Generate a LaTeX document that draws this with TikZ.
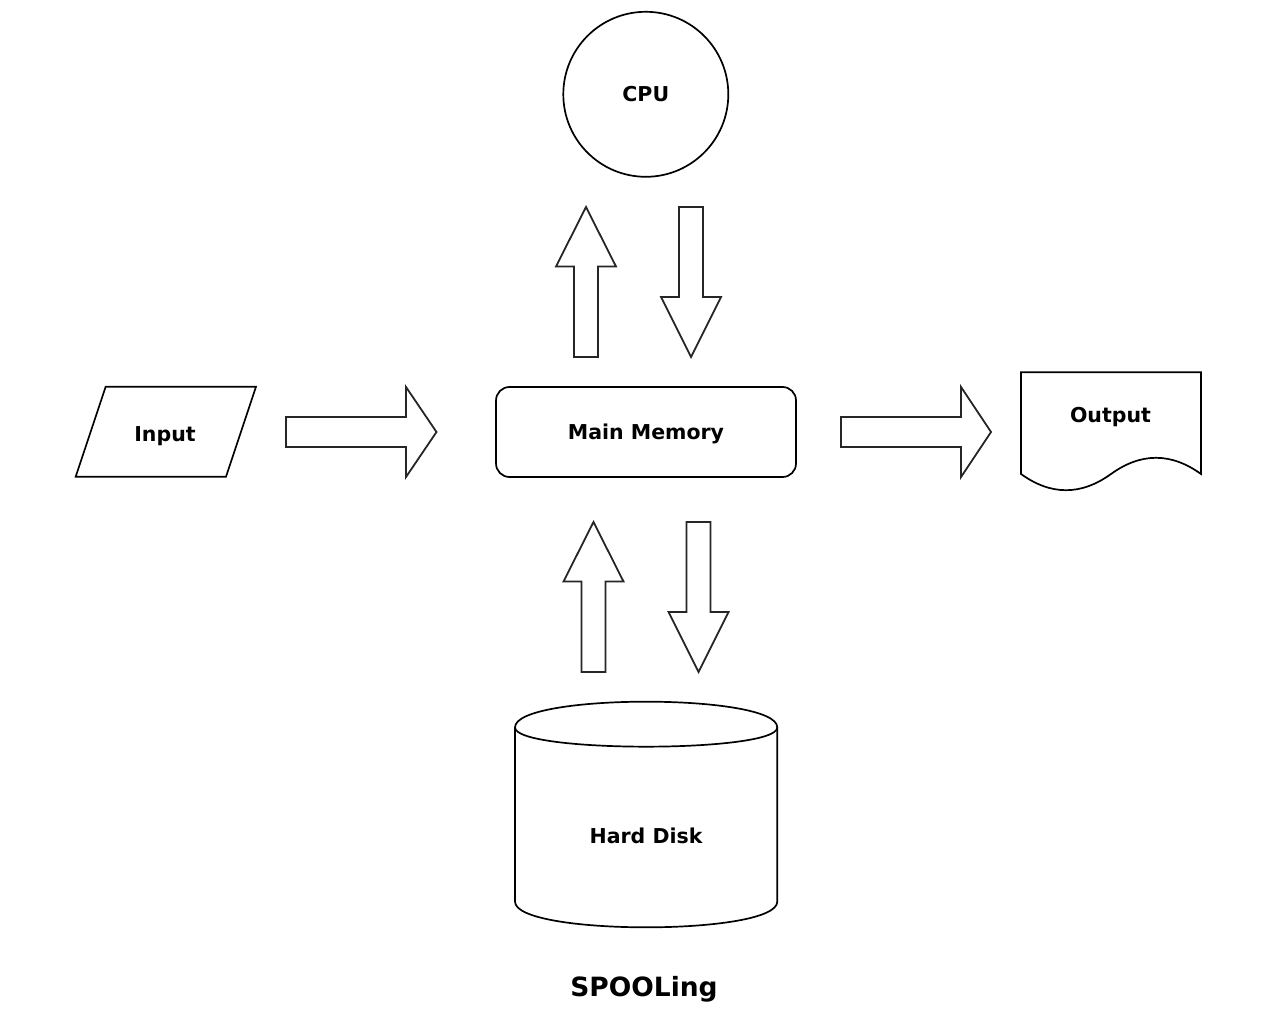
\documentclass[tikz,border=0pt]{standalone}
\usepackage{fontspec}
\setmainfont{DejaVu Sans}
\tikzset{
  box/.style={draw, line width=1.7pt},
  lbl/.style={font=\fontsize{20.5}{24}\selectfont\bfseries, text height=15pt, text depth=0pt, inner sep=0pt},
  blockarrow/.style={draw=black!85, line width=1.8pt, line join=miter},
}
\begin{document}
\begin{tikzpicture}[x=1pt,y=-1pt]
\useasboundingbox (0,0) rectangle (1282,1024);
% cpu and main memory
\node[box,circle,minimum size=165pt,lbl] (cpu) at (645.8,94.3) {CPU};
\node[box,rounded corners=13.5pt,minimum width=300pt,minimum height=90pt,lbl] (mem) at (646,432) {Main Memory};
% input
\draw[box] (75.7,476.7) -- (105.7,386.7) -- (256,386.7) -- (226,476.7) -- cycle;
\node[lbl] (input) at (165,433.8) {Input};
% output
\draw[box] (1021,474) -- (1021,372.3) -- (1201,372.3) -- (1201,474) .. controls (1171,452.4) and (1141,452.4) .. (1111,474) .. controls (1081,495.6) and (1051,495.6) .. (1021,474) -- cycle;
\node[lbl] (output) at (1110.5,414.8) {Output};
% hard disk
\draw[box] (515,727.4) .. controls (515,693.1) and (777.3,693.1) .. (777.3,727.4) -- (777.3,901.6) .. controls (777.3,935.9) and (515,935.9) .. (515,901.6) -- cycle;
\draw[box] (515,727.4) .. controls (515,753.1) and (777.3,753.1) .. (777.3,727.4);
\node[lbl] (disk) at (646,835.6) {Hard Disk};
% arrows between cpu and memory
\draw[blockarrow] (574,357) -- (574,266.5) -- (556,266.5) -- (586,207) -- (616,266.5) -- (598,266.5) -- (598,357) -- cycle;
\draw[blockarrow] (679,207) -- (703,207) -- (703,297) -- (721,297) -- (691,357) -- (661,297) -- (679,297) -- cycle;
% arrows between memory and disk
\draw[blockarrow] (581.5,672) -- (581.5,581.5) -- (563.5,581.5) -- (593.5,522) -- (623.5,581.5) -- (605.5,581.5) -- (605.5,672) -- cycle;
\draw[blockarrow] (686.5,522) -- (710.5,522) -- (710.5,612) -- (728.5,612) -- (698.5,672) -- (668.5,612) -- (686.5,612) -- cycle;
% input -> memory -> output
\draw[blockarrow] (286,417) -- (406,417) -- (406,387) -- (436.5,432) -- (406,477) -- (406,447) -- (286,447) -- cycle;
\draw[blockarrow] (841,417) -- (961,417) -- (961,387) -- (991,432) -- (961,477) -- (961,447) -- (841,447) -- cycle;
\node[font=\fontsize{26.5}{30}\selectfont\bfseries, anchor=base] (title) at (644,996) {SPOOLing};
\end{tikzpicture}
\end{document}
